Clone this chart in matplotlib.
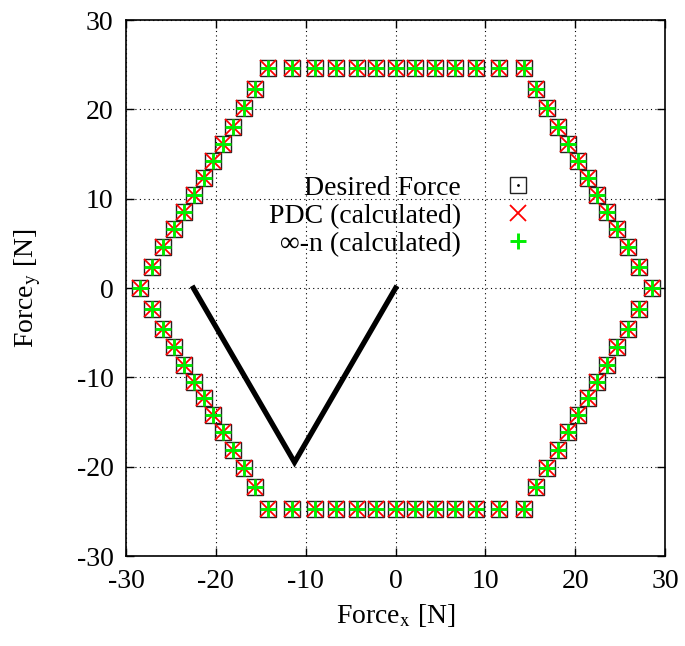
import matplotlib
matplotlib.use("Agg")
import matplotlib.pyplot as plt
from matplotlib.lines import Line2D
from matplotlib.legend_handler import HandlerTuple

plt.rcParams['font.family'] = ['Liberation Serif', 'DejaVu Serif']
plt.rcParams['mathtext.fontset'] = 'stix'
plt.rcParams['axes.unicode_minus'] = False

# desired force points on the hexagon, every 5 degrees from 0 to 355
fx = [28.50, 27.13, 25.86, 24.68, 23.55, 22.45, 21.37, 20.29, 19.20, 18.07, 16.88, 15.62,
      14.25, 11.51, 8.98, 6.61, 4.35, 2.16, 0.00, -2.16, -4.35, -6.61, -8.98, -11.51,
      -14.25, -15.62, -16.88, -18.07, -19.20, -20.29, -21.37, -22.45, -23.55, -24.68, -25.86, -27.13,
      -28.50, -27.13, -25.86, -24.68, -23.55, -22.45, -21.37, -20.29, -19.20, -18.07, -16.88, -15.62,
      -14.25, -11.51, -8.98, -6.61, -4.35, -2.16, 0.00, 2.16, 4.35, 6.61, 8.98, 11.51,
      14.25, 15.62, 16.88, 18.07, 19.20, 20.29, 21.37, 22.45, 23.55, 24.68, 25.86, 27.13]
fy = [0.00, 2.37, 4.56, 6.61, 8.57, 10.47, 12.34, 14.21, 16.11, 18.07, 20.12, 22.31,
      24.68, 24.68, 24.68, 24.68, 24.68, 24.68, 24.68, 24.68, 24.68, 24.68, 24.68, 24.68,
      24.68, 22.31, 20.12, 18.07, 16.11, 14.21, 12.34, 10.47, 8.57, 6.61, 4.56, 2.37,
      0.00, -2.37, -4.56, -6.61, -8.57, -10.47, -12.34, -14.21, -16.11, -18.07, -20.12, -22.31,
      -24.68, -24.68, -24.68, -24.68, -24.68, -24.68, -24.68, -24.68, -24.68, -24.68, -24.68, -24.68,
      -24.68, -22.31, -20.12, -18.07, -16.11, -14.21, -12.34, -10.47, -8.57, -6.61, -4.56, -2.37]

# calculated forces overlap the desired ones
pdc_x = fx
pdc_y = fy
inf_x = fx
inf_y = fy

# the two force vectors drawn as a V
v_x = [0.0, -11.25, -22.5]
v_y = [0.0, -19.49, 0.0]

ticks = [-30, -20, -10, 0, 10, 20, 30]

fig = plt.figure(figsize=(6.85, 6.46), dpi=100)
ax = fig.add_axes([0.184, 0.139, 0.787, 0.830])

ax.plot(v_x, v_y, color='black', lw=3.8, solid_joinstyle='miter', zorder=2)
sq, = ax.plot(fx, fy, ls='none', marker='s', ms=11, mfc='none', mec='#222222', mew=1.0, zorder=3)
cr, = ax.plot(pdc_x, pdc_y, ls='none', marker='x', ms=12, mec='#ff0000', mew=1.3, zorder=4)
pl, = ax.plot(inf_x, inf_y, ls='none', marker='+', ms=11.5, mec='#00ee00', mew=2.1, zorder=5)

dot = Line2D([], [], ls='none', marker='.', ms=2, color='black')

ax.set_xlim(-30, 30)
ax.set_ylim(-30, 30)
ax.set_xticks(ticks)
ax.set_yticks(ticks)
ax.grid(True, color='black', lw=0.8, ls=(0, (1, 3)))
ax.tick_params(direction='in', length=6, width=1, top=True, right=True, labelsize=20, pad=9)
for s in ax.spines.values():
    s.set_linewidth(1.2)

ax.set_xlabel(r'Force$_{\mathrm{x}}$ [N]', fontsize=20, labelpad=6)
ax.set_ylabel(r'Force$_{\mathrm{y}}$ [N]', fontsize=20, labelpad=24)

ax.legend([(sq, dot), cr, pl], ['Desired Force', 'PDC (calculated)', '∞-n (calculated)'],
          handler_map={tuple: HandlerTuple(ndivide=1)},
          loc='center right', bbox_to_anchor=(0.771, 0.634), frameon=False,
          markerfirst=False, fontsize=20, handletextpad=1.2, handlelength=1.7,
          labelspacing=0.1, borderpad=0, borderaxespad=0)

fig.savefig('out.png', dpi=100)
